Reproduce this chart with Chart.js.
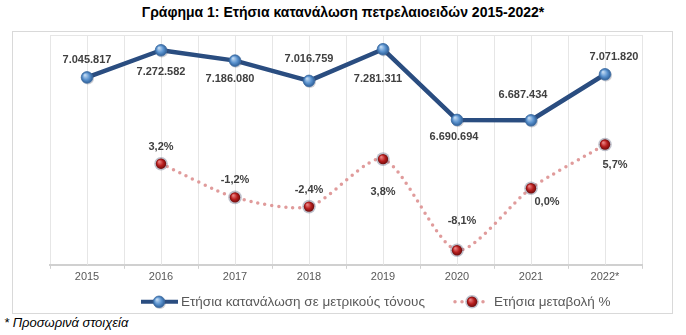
<!DOCTYPE html>
<html>
<head>
<meta charset="utf-8">
<script src="https://cdn.jsdelivr.net/npm/chart.js@4.4.1/dist/chart.umd.min.js"></script>
<style>
  html, body { margin: 0; padding: 0; background: #fff; }
  body { width: 686px; height: 335px; position: relative; overflow: hidden; font-family: "Liberation Sans", Arial, sans-serif; }
  #title { position: absolute; left: 0; top: 4px; width: 686px; text-align: center; font-weight: bold; font-size: 14px; color: #000; }
  #frame { position: absolute; left: 12px; top: 31px; width: 661px; height: 283px; border: 1px solid #d9d9d9; box-sizing: border-box; }
  #frame canvas { display: block; }
  #note { position: absolute; left: 4px; top: 315px; font-style: italic; font-size: 13px; color: #000; }
</style>
</head>
<body>
<div id="title">Γράφημα 1: Ετήσια κατανάλωση πετρελαιοειδών 2015-2022*</div>
<div id="frame"><canvas id="chart" width="659" height="281"></canvas></div>
<div id="note">* Προσωρινά στοιχεία</div>
<script>
// data
const years = ['2015', '2016', '2017', '2018', '2019', '2020', '2021', '2022*'];
const consumption = [7045817, 7272582, 7186080, 7016759, 7281311, 6690694, 6687434, 7071820];
const changePct = [null, 3.2, -1.2, -2.4, 3.8, -8.1, 0.0, 5.7];
const seriesNames = ['Ετήσια κατανάλωση σε μετρικούς τόνους', 'Ετήσια μεταβολή %'];

// label offsets (px) from each point
const consLabelDx = [0, 0, -5, 0, -5, -3, -8, 9];
const consLabelDy = [-17, 22, 18, -22, 30, 17, -25, -17];
const pctLabelDx = [0, 0, 0, 0, 0, 5, 16, 10];
const pctLabelDy = [0, -17, -17, -17, 33, -29, 14, 20];

const BLUE_LINE = '#2a4d80';
const PINK_DOTS = 'rgba(222,150,150,0.95)';
const LABEL_COLOR = '#404040';
const GRID = '#e6e6e6';

function fmtThousands(v) {
  return String(v).replace(/\B(?=(\d{3})+(?!\d))/g, '.');
}
function fmtPct(v) {
  return v.toFixed(1).replace('.', ',') + '%';
}

function sphere(ctx, x, y, r, light, mid, dark) {
  const g = ctx.createRadialGradient(x - r * 0.35, y - r * 0.4, r * 0.1, x, y, r);
  g.addColorStop(0, light);
  g.addColorStop(0.55, mid);
  g.addColorStop(1, dark);
  return g;
}

function drawBlueMarker(ctx, x, y) {
  ctx.save();
  ctx.beginPath();
  ctx.arc(x + 0.8, y + 1, 6.2, 0, Math.PI * 2);
  ctx.fillStyle = 'rgba(60,60,80,0.25)';
  ctx.fill();
  ctx.beginPath();
  ctx.arc(x, y, 5.8, 0, Math.PI * 2);
  ctx.fillStyle = sphere(ctx, x, y, 5.8, '#bcd6f0', '#5b93cf', '#2f5f97');
  ctx.fill();
  ctx.lineWidth = 0.8;
  ctx.strokeStyle = '#3e6fa6';
  ctx.stroke();
  ctx.restore();
}

function drawRedMarker(ctx, x, y) {
  ctx.save();
  ctx.beginPath();
  ctx.arc(x, y, 6.8, 0, Math.PI * 2);
  ctx.fillStyle = 'rgba(110,115,140,0.45)';
  ctx.fill();
  ctx.beginPath();
  ctx.arc(x, y, 5.2, 0, Math.PI * 2);
  ctx.fillStyle = sphere(ctx, x, y, 5.2, '#e88080', '#b81e1e', '#6e0c0c');
  ctx.fill();
  ctx.restore();
}

// extra grid lines at category centres + top border
const gridPlugin = {
  id: 'gridExtra',
  beforeDatasetsDraw(chart) {
    const { ctx, chartArea, scales } = chart;
    ctx.save();
    ctx.strokeStyle = GRID;
    ctx.lineWidth = 1;
    years.forEach((_, i) => {
      const x = Math.round(scales.x.getPixelForValue(i)) + 0.5;
      ctx.beginPath();
      ctx.moveTo(x, chartArea.top);
      ctx.lineTo(x, chartArea.bottom);
      ctx.stroke();
    });
    ctx.beginPath();
    ctx.moveTo(chartArea.left, chartArea.top + 0.5);
    ctx.lineTo(chartArea.right, chartArea.top + 0.5);
    ctx.stroke();
    ctx.restore();
  }
};

// markers + data labels
const markerPlugin = {
  id: 'markers',
  afterDatasetsDraw(chart) {
    const { ctx } = chart;
    const m0 = chart.getDatasetMeta(0).data;
    const m1 = chart.getDatasetMeta(1).data;
    m0.forEach(p => drawBlueMarker(ctx, p.x, p.y));
    m1.forEach((p, i) => { if (changePct[i] !== null) drawRedMarker(ctx, p.x, p.y); });

    ctx.save();
    ctx.font = 'bold 11px "Liberation Sans", Arial, sans-serif';
    ctx.fillStyle = LABEL_COLOR;
    ctx.textAlign = 'center';
    ctx.textBaseline = 'middle';
    m0.forEach((p, i) => {
      ctx.fillText(fmtThousands(consumption[i]), p.x + consLabelDx[i], p.y + consLabelDy[i]);
    });
    m1.forEach((p, i) => {
      if (changePct[i] === null) return;
      ctx.fillText(fmtPct(changePct[i]), p.x + pctLabelDx[i], p.y + pctLabelDy[i]);
    });
    ctx.restore();
  }
};

// legend drawn under the axis
const legendPlugin = {
  id: 'legendCustom',
  afterDraw(chart) {
    const { ctx, chartArea } = chart;
    const y = chartArea.bottom + 37;
    const ox = -13; // canvas offset inside page
    ctx.save();
    // series 1 symbol
    ctx.strokeStyle = BLUE_LINE;
    ctx.lineWidth = 4;
    ctx.beginPath();
    ctx.moveTo(141 + ox, y);
    ctx.lineTo(178 + ox, y);
    ctx.stroke();
    drawBlueMarker(ctx, 159 + ox, y);
    // series 2 symbol
    ctx.strokeStyle = PINK_DOTS;
    ctx.lineWidth = 3.5;
    ctx.lineCap = 'round';
    ctx.setLineDash([0, 7]);
    ctx.beginPath();
    ctx.moveTo(455 + ox, y);
    ctx.lineTo(490 + ox, y);
    ctx.stroke();
    ctx.setLineDash([]);
    drawRedMarker(ctx, 472 + ox, y);

    ctx.font = '13.5px "Liberation Sans", Arial, sans-serif';
    ctx.fillStyle = '#595959';
    ctx.textBaseline = 'middle';
    ctx.textAlign = 'left';
    ctx.fillText(seriesNames[0], 181 + ox, y);
    ctx.fillText(seriesNames[1], 494 + ox, y);
    ctx.restore();
  }
};

function init() {
  const ctx = document.getElementById('chart').getContext('2d');
  new Chart(ctx, {
    type: 'line',
    data: {
      labels: years,
      datasets: [
        {
          label: seriesNames[0],
          data: consumption,
          yAxisID: 'y',
          borderColor: BLUE_LINE,
          borderWidth: 4.5,
          borderJoinStyle: 'round',
          pointRadius: 0,
          tension: 0
        },
        {
          label: seriesNames[1],
          data: changePct,
          yAxisID: 'y1',
          borderColor: PINK_DOTS,
          borderWidth: 3.5,
          borderDash: [0, 7],
          borderCapStyle: 'round',
          pointRadius: 0,
          tension: 0.25,
          spanGaps: false
        }
      ]
    },
    options: {
      responsive: false,
      animation: false,
      layout: { padding: { left: 37, right: 30, top: 3, bottom: 27 } },
      plugins: {
        legend: { display: false },
        tooltip: { enabled: false },
        title: { display: false }
      },
      scales: {
        x: {
          offset: true,
          grid: {
            offset: true,
            color: GRID,
            tickColor: '#d0d0d0',
            tickLength: 4,
            drawTicks: true
          },
          border: { color: '#d0d0d0', width: 2 },
          ticks: {
            color: '#595959',
            padding: 2,
            font: { family: '"Liberation Sans", Arial, sans-serif', size: 11 }
          }
        },
        y: { display: false, min: 5480000, max: 7400000 },
        y1: { display: false, min: -10, max: 20 }
      }
    },
    plugins: [gridPlugin, markerPlugin, legendPlugin]
  });
}

if (document.readyState === 'loading') {
  document.addEventListener('DOMContentLoaded', init);
} else {
  init();
}
</script>
</body>
</html>
